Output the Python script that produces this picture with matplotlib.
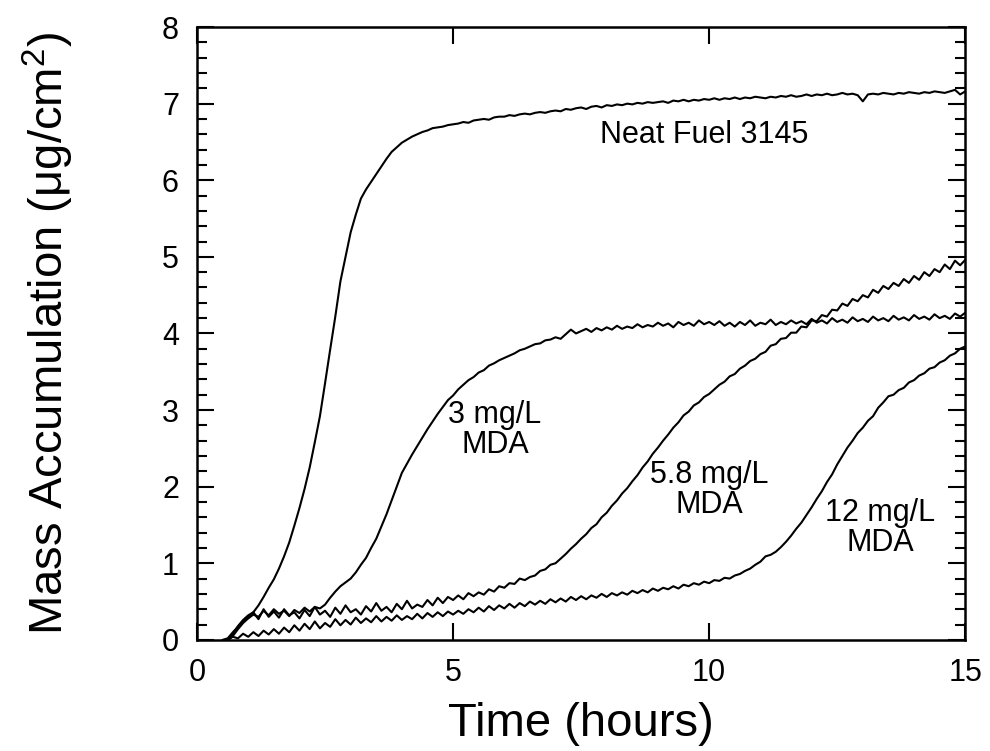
import numpy as np
import matplotlib
matplotlib.use('Agg')
import matplotlib.pyplot as plt
from matplotlib.ticker import MultipleLocator

plt.rcParams['font.family'] = ['Liberation Sans', 'DejaVu Sans']
plt.rcParams['mathtext.fontset'] = 'custom'
plt.rcParams['mathtext.rm'] = 'Liberation Sans'

# deposit mass vs time, sampled every 0.1 h
DT = 0.1

neat_t0 = 0.5
neat = [
    0.00, 0.02, 0.10, 0.17, 0.24, 0.30, 0.36, 0.45, 0.56, 0.68,
    0.79, 0.93, 1.09, 1.27, 1.49, 1.72, 1.97, 2.25, 2.58, 2.92,
    3.35, 3.79, 4.22, 4.68, 5.00, 5.32, 5.55, 5.76, 5.88, 5.98,
    6.08, 6.18, 6.28, 6.37, 6.43, 6.49, 6.53, 6.57, 6.60, 6.63,
    6.65, 6.68, 6.69, 6.70, 6.72, 6.73, 6.74, 6.76, 6.75, 6.78,
    6.79, 6.80, 6.79, 6.82, 6.83, 6.83, 6.85, 6.84, 6.86, 6.87,
    6.86, 6.88, 6.89, 6.88, 6.90, 6.91, 6.90, 6.93, 6.92, 6.94,
    6.95, 6.93, 6.96, 6.97, 6.95, 6.98, 6.97, 6.99, 6.98, 7.00,
    6.99, 7.01, 7.00, 7.02, 7.01, 7.02, 7.03, 7.01, 7.04, 7.03,
    7.05, 7.03, 7.05, 7.04, 7.06, 7.05, 7.07, 7.05, 7.07, 7.06,
    7.08, 7.06, 7.08, 7.07, 7.09, 7.08, 7.07, 7.09, 7.08, 7.10,
    7.09, 7.11, 7.09, 7.10, 7.12, 7.10, 7.12, 7.11, 7.13, 7.11,
    7.12, 7.14, 7.12, 7.13, 7.11, 7.03, 7.12, 7.13, 7.12, 7.14,
    7.13, 7.12, 7.14, 7.13, 7.15, 7.14, 7.13, 7.15, 7.14, 7.16,
    7.15, 7.14, 7.16, 7.18, 7.12, 7.16,
]

mda3_t0 = 0.6
mda3 = [
    0.00, 0.05, 0.14, 0.22, 0.28, 0.33, 0.30, 0.38, 0.32, 0.40,
    0.34, 0.38, 0.31, 0.39, 0.35, 0.42, 0.37, 0.43, 0.41, 0.46,
    0.55, 0.63, 0.70, 0.75, 0.80, 0.88, 0.98, 1.07, 1.20, 1.32,
    1.48, 1.64, 1.82, 2.00, 2.18, 2.30, 2.42, 2.53, 2.64, 2.75,
    2.85, 2.95, 3.04, 3.13, 3.19, 3.27, 3.33, 3.39, 3.43, 3.49,
    3.52, 3.58, 3.61, 3.65, 3.68, 3.71, 3.74, 3.78, 3.80, 3.83,
    3.86, 3.87, 3.91, 3.92, 3.95, 3.93, 3.99, 4.05, 4.00, 4.03,
    4.06, 4.02, 4.07, 4.04, 4.08, 4.05, 4.10, 4.06, 4.09, 4.07,
    4.12, 4.08, 4.11, 4.09, 4.14, 4.10, 4.13, 4.08, 4.15, 4.11,
    4.14, 4.10, 4.17, 4.12, 4.15, 4.11, 4.16, 4.10, 4.14, 4.09,
    4.15, 4.11, 4.17, 4.10, 4.14, 4.12, 4.18, 4.11, 4.15, 4.12,
    4.17, 4.13, 4.16, 4.12, 4.19, 4.14, 4.17, 4.13, 4.20, 4.15,
    4.18, 4.14, 4.21, 4.16, 4.19, 4.15, 4.22, 4.17, 4.20, 4.16,
    4.23, 4.18, 4.21, 4.17, 4.24, 4.19, 4.22, 4.18, 4.25, 4.20,
    4.23, 4.19, 4.26, 4.22, 4.27,
]

mda58_t0 = 0.6
mda58 = [
    0.00, 0.08, 0.18, 0.26, 0.32, 0.36, 0.27, 0.40, 0.30, 0.37,
    0.29, 0.40, 0.32, 0.36, 0.28, 0.39, 0.31, 0.43, 0.33, 0.38,
    0.30, 0.42, 0.34, 0.45, 0.36, 0.40, 0.33, 0.44, 0.37, 0.48,
    0.38, 0.43, 0.36, 0.47, 0.40, 0.51, 0.41, 0.46, 0.43, 0.52,
    0.45, 0.55, 0.48, 0.56, 0.52, 0.58, 0.53, 0.61, 0.57, 0.62,
    0.59, 0.66, 0.63, 0.70, 0.68, 0.74, 0.73, 0.80, 0.78, 0.82,
    0.84, 0.90, 0.92, 0.98, 1.00, 1.06, 1.12, 1.19, 1.25, 1.32,
    1.38, 1.46, 1.51, 1.60, 1.66, 1.75, 1.82, 1.91, 1.98, 2.07,
    2.15, 2.25, 2.33, 2.43, 2.51, 2.60, 2.68, 2.77, 2.84, 2.93,
    2.98, 3.06, 3.10, 3.17, 3.21, 3.27, 3.33, 3.37, 3.44, 3.47,
    3.54, 3.58, 3.64, 3.67, 3.73, 3.76, 3.84, 3.86, 3.93, 3.94,
    4.01, 4.01, 4.09, 4.08, 4.17, 4.16, 4.24, 4.22, 4.31, 4.30,
    4.39, 4.36, 4.45, 4.42, 4.50, 4.47, 4.57, 4.53, 4.62, 4.58,
    4.66, 4.62, 4.71, 4.66, 4.75, 4.70, 4.80, 4.75, 4.84, 4.80,
    4.90, 4.84, 4.95, 4.89, 4.96,
]

mda12_t0 = 0.6
mda12 = [
    0.00, 0.04, 0.02, 0.08, 0.04, 0.10, 0.05, 0.12, 0.07, 0.14,
    0.08, 0.16, 0.10, 0.19, 0.12, 0.21, 0.14, 0.24, 0.15, 0.22,
    0.17, 0.27, 0.19, 0.26, 0.20, 0.29, 0.22, 0.28, 0.23, 0.31,
    0.24, 0.30, 0.25, 0.32, 0.26, 0.31, 0.27, 0.34, 0.28, 0.35,
    0.30, 0.36, 0.31, 0.37, 0.33, 0.38, 0.34, 0.40, 0.36, 0.42,
    0.37, 0.44, 0.39, 0.45, 0.41, 0.47, 0.42, 0.48, 0.44, 0.50,
    0.46, 0.51, 0.47, 0.53, 0.49, 0.54, 0.50, 0.56, 0.52, 0.57,
    0.53, 0.58, 0.55, 0.60, 0.56, 0.61, 0.58, 0.62, 0.59, 0.64,
    0.61, 0.65, 0.62, 0.67, 0.64, 0.68, 0.66, 0.70, 0.67, 0.72,
    0.70, 0.74, 0.72, 0.76, 0.74, 0.78, 0.77, 0.81, 0.80, 0.84,
    0.86, 0.90, 0.93, 0.98, 1.02, 1.09, 1.11, 1.15, 1.21, 1.28,
    1.36, 1.45, 1.53, 1.63, 1.73, 1.84, 1.94, 2.06, 2.16, 2.29,
    2.40, 2.51, 2.60, 2.70, 2.77, 2.86, 2.92, 3.03, 3.10, 3.18,
    3.20, 3.26, 3.29, 3.36, 3.39, 3.45, 3.48, 3.54, 3.56, 3.62,
    3.65, 3.71, 3.74, 3.80, 3.83,
]

series = [(neat_t0, neat), (mda3_t0, mda3), (mda58_t0, mda58), (mda12_t0, mda12)]

fig = plt.figure(figsize=(9.9, 7.51), dpi=100)
ax = fig.add_axes([0.199, 0.148, 0.776, 0.816])

for t0, vals in series:
    t = t0 + DT * np.arange(len(vals))
    ax.plot(t, vals, color='black', lw=1.5)

ax.set_xlim(0, 15)
ax.set_ylim(0, 8)
ax.xaxis.set_major_locator(MultipleLocator(5))
ax.yaxis.set_major_locator(MultipleLocator(1))
ax.yaxis.set_minor_locator(MultipleLocator(0.2))
ax.tick_params(which='both', direction='in', top=True, right=True, width=1.5)
ax.tick_params(which='major', length=12, labelsize=22, pad=13)
ax.tick_params(which='minor', length=7)
for s in ax.spines.values():
    s.set_linewidth(1.8)

ax.set_xlabel('Time (hours)', fontsize=34, labelpad=10)
ax.set_ylabel('Mass Accumulation (μg/cm$^{2}$)', fontsize=34, labelpad=62)

lbl = dict(fontsize=22, ha='center', va='center', multialignment='center', linespacing=1.0)
ax.text(9.9, 6.59, 'Neat Fuel 3145', **lbl)
ax.text(5.82, 2.74, '3 mg/L\nMDA', **lbl)
ax.text(10.0, 1.95, '5.8 mg/L\nMDA', **lbl)
ax.text(13.34, 1.46, '12 mg/L\nMDA', **lbl)

fig.savefig('out.png', dpi=100)
